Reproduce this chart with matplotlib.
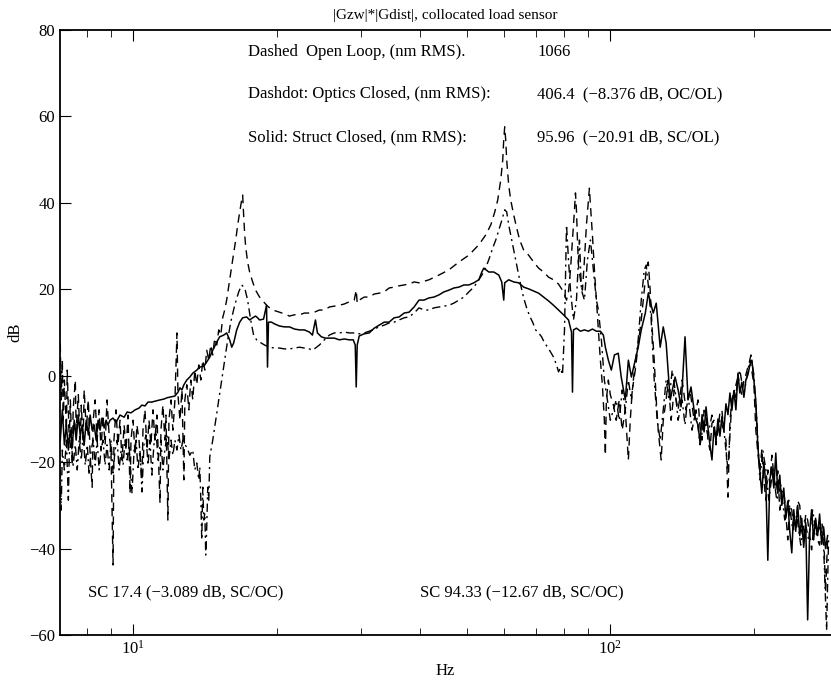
import matplotlib
matplotlib.use('Agg')
import matplotlib.pyplot as plt

plt.rcParams['font.family'] = ['Liberation Serif', 'DejaVu Serif']
plt.rcParams['mathtext.fontset'] = 'stix'

# dashed: open loop
ol_hz = [7.04, 7.07, 7.11, 7.14, 7.18, 7.25, 7.28, 7.35, 7.39, 7.46, 7.49, 7.57, 7.60, 7.68, 7.75, 7.79,
         7.86, 7.90, 7.98, 8.06, 8.13, 8.21, 8.25, 8.33, 8.41, 8.49, 8.57, 8.65, 8.74, 8.82, 8.91, 8.99,
         9.08, 9.12, 9.21, 9.30, 9.39, 9.48, 9.58, 9.67, 9.76, 9.86, 9.90, 10.00, 10.10, 10.19, 10.29,
         10.44, 10.49, 10.59, 10.70, 10.80, 10.90, 11.01, 11.11, 11.22, 11.39, 11.44, 11.55, 11.66, 11.72,
         11.83, 11.89, 12.01, 12.12, 12.24, 12.36, 12.42, 12.54, 12.66, 12.78, 12.84, 12.96, 13.09, 13.21,
         13.34, 13.47, 13.60, 13.73, 13.87, 14.00, 14.14, 14.27, 14.41, 14.55, 14.69, 14.83, 14.98, 15.12,
         15.27, 15.41, 15.56, 15.71, 15.94, 16.17, 16.41, 16.57, 16.73, 16.89, 16.97, 17.05, 17.14, 17.22,
         17.38, 17.55, 17.81, 18.06, 18.41, 18.77, 19.13, 19.50, 19.88, 20.27, 20.76, 21.27, 21.79, 22.32,
         22.86, 23.42, 23.99, 24.57, 25.17, 25.78, 26.41, 27.05, 27.71, 28.38, 29.07, 29.35, 29.49, 29.78,
         30.50, 31.25, 32.01, 32.79, 33.59, 34.40, 35.24, 36.10, 36.98, 37.87, 38.80, 39.74, 41.70, 43.75,
         45.90, 48.16, 50.54, 53.03, 54.85, 56.18, 57.27, 58.10, 58.94, 59.51, 59.80, 60.08, 60.37, 60.66,
         61.25, 61.84, 62.74, 63.65, 64.58, 65.83, 67.43, 69.08, 70.75, 72.47, 74.24, 76.04, 77.89, 79.79,
         80.95, 81.73, 82.52, 83.32, 84.12, 84.53, 84.93, 85.34, 85.75, 86.58, 87.42, 88.26, 89.12, 89.98,
         90.41, 90.85, 91.73, 92.62, 93.51, 94.41, 95.32, 96.24, 97.17, 97.64, 98.11, 99.06, 100.0, 101.5,
         102.9, 104.4, 105.9, 107.5, 109.1, 110.1, 111.2, 112.8, 114.4, 116.1, 117.8, 118.9, 120.1, 121.2,
         122.4, 123.6, 124.8, 126.0, 127.8, 129.1, 130.9, 132.2, 134.1, 136.1, 138.7, 141.4, 144.1, 146.9,
         149.8, 152.7, 154.2, 155.7, 157.2, 158.7, 160.2, 161.7, 163.3, 164.9, 166.5, 168.1, 169.7, 171.3,
         173.0, 174.7, 176.4, 178.1, 179.8, 181.5, 183.3, 185.1, 186.8, 188.6, 190.5, 192.3, 194.2, 196.1,
         198.0, 199.9, 201.8, 203.8, 205.7, 207.7, 209.7, 211.8, 213.8, 215.9, 218.0, 220.1, 222.2, 224.3,
         226.5, 228.7, 230.9, 233.2, 235.4, 237.7, 240.0, 242.3, 244.6, 247.0, 249.4, 251.8, 254.2, 256.7,
         259.1, 261.7, 264.1, 266.7, 269.2, 271.9, 274.5, 277.2, 279.8, 282.5, 285.3]
ol_db = [7.5, -5.6, 3.6, -10.3, -1.0, -12.6, 1.3, -14.9, -5.6, -20.7, -7.9, -1.0, -12.6, -4.4, -16.0, -6.8,
         -14.9, -3.3, -12.6, -5.6, -18.4, -25.8, -10.3, -5.6, -14.9, -7.9, -17.2, -9.1, -16.0, -5.6, -13.7, -17.2,
         -43.8, -14.9, -7.9, -16.0, -10.3, -19.5, -11.4, -17.2, -9.1, -27.2, -14.9, -10.3, -18.4, -11.4, -14.9,
         -24.1, -12.6, -7.9, -17.2, -10.3, -16.0, -7.9, -14.9, -9.1, -29.5, -12.6, -6.8, -14.9, -9.1,
         -33.4, -10.3, -5.6, -12.6, -5.6, 9.9, -4.4, -10.3, -3.3, -24.1, -5.6, -2.1, -7.9, -1.0,
         -5.6, 1.3, -2.1, 2.5, -1.0, 3.6, 1.3, 5.9, 3.6, 7.1, 4.8, 8.7, 7.1, 10.6,
         9.4, 13.4, 15.2, 17.5, 22.2, 26.8, 31.4, 34.9, 37.9, 40.7, 41.8, 37.2, 32.6, 29.8,
         26.3, 24.0, 21.7, 19.8, 18.2, 17.1, 16.1, 15.4, 15.0, 14.7, 14.3, 13.8, 14.1, 14.1,
         14.5, 14.5, 14.7, 15.2, 15.2, 15.9, 16.1, 16.3, 16.6, 17.1, 17.5, 19.8, 16.8, 17.5,
         18.2, 18.2, 18.9, 19.1, 19.4, 20.3, 20.5, 20.8, 21.0, 21.2, 21.7, 21.5, 22.2, 23.3,
         24.5, 26.3, 27.9, 30.3, 32.6, 34.9, 37.9, 40.7, 45.3, 49.9, 54.6, 57.6, 54.6, 49.9,
         44.1, 40.7, 37.2, 34.2, 31.4, 29.1, 27.9, 26.3, 24.9, 24.0, 22.8, 22.2, 21.2, 19.4,
         17.5, 19.4, 24.5, 31.4, 38.4, 42.3, 38.4, 31.4, 25.6, 22.2, 19.8, 26.8, 34.9, 40.7,
         43.4, 39.5, 32.6, 24.5, 17.5, 10.6, 3.6, -2.1, -10.3, -18.4, -5.6, -1.0, -4.4, -6.8,
         -10.3, -5.6, -12.6, -7.9, -19.5, -10.3, -3.3, 1.3, 7.1, 12.9, 19.8, 24.5, 26.3, 19.8,
         10.6, 3.6, -5.6, -12.6, -19.5, -10.3, -5.6, -1.0, -10.3, -3.3, -7.9, -1.0, -7.9, -3.3,
         -10.3, -5.6, -12.0, -14.9, -8.0, -9.1, -15.0, -17.2, -11.0, -10.3, -16.0, -12.6, -8.5, -7.9,
         -13.0, -14.9, -28.1, -10.3, -6.0, -3.3, -5.0, 0.2, -2.5, -4.4, -1.0, 0.2, 2.0, 3.6,
         1.0, -2.0, -12.6, -18.0, -21.8, -17.2, -24.0, -28.8, -21.8, -25.0, -18.4, -23.0, -26.5, -22.0,
         -31.1, -27.0, -26.5, -32.0, -38.0, -30.0, -31.1, -36.0, -35.7, -29.0, -30.0, -36.0, -38.0, -32.0,
         -33.4, -37.0, -40.3, -35.0, -33.4, -38.0, -39.2, -34.0, -35.7, -50.0, -38.0]

# dashdot: optics closed
oc_hz = [7.04, 7.07, 7.11, 7.18, 7.25, 7.32, 7.35, 7.42, 7.49, 7.57, 7.64, 7.71, 7.79, 7.86, 7.94, 8.02,
         8.09, 8.17, 8.25, 8.33, 8.41, 8.49, 8.57, 8.65, 8.74, 8.82, 8.91, 8.99, 9.08, 9.17, 9.26, 9.35,
         9.44, 9.53, 9.62, 9.72, 9.81, 9.95, 10.05, 10.15, 10.24, 10.34, 10.44, 10.54, 10.64, 10.75, 10.85,
         10.95, 11.06, 11.17, 11.28, 11.44, 11.55, 11.66, 11.78, 11.89, 12.01, 12.12, 12.24, 12.36, 12.48,
         12.60, 12.72, 12.84, 12.96, 13.15, 13.34, 13.47, 13.60, 13.73, 13.80, 13.87, 13.93, 14.00, 14.07,
         14.14, 14.20, 14.27, 14.34, 14.41, 14.48, 14.69, 14.90, 15.12, 15.34, 15.56, 15.79, 16.02, 16.33,
         16.65, 16.89, 17.14, 17.38, 17.64, 17.89, 18.15, 18.41, 18.86, 19.32, 19.78, 20.27, 20.76, 21.27,
         21.79, 22.32, 22.86, 23.42, 23.76, 24.11, 24.57, 25.17, 25.78, 26.41, 27.05, 27.71, 28.38, 29.07,
         29.78, 30.50, 31.25, 32.01, 32.79, 33.59, 34.40, 35.24, 36.10, 36.98, 37.87, 38.80, 39.74, 40.71,
         41.70, 42.71, 43.75, 44.82, 45.90, 47.02, 48.16, 49.34, 50.54, 51.77, 53.03, 54.32, 55.11, 55.91,
         56.72, 57.54, 58.38, 59.22, 60.08, 60.66, 61.25, 62.14, 63.04, 63.96, 64.89, 65.83, 66.79, 67.76,
         68.74, 69.74, 70.75, 71.78, 72.82, 73.88, 74.95, 76.04, 77.14, 77.89, 78.64, 79.40, 80.17, 80.95,
         81.73, 82.52, 83.72, 84.93, 86.17, 87.00, 88.26, 89.55, 90.85, 92.17, 93.51, 94.41, 95.78, 97.17,
         98.59, 100.0, 101.5, 102.9, 104.4, 105.9, 107.5, 109.1, 110.7, 112.3, 114.4, 116.1, 117.8, 118.9,
         120.1, 121.8, 123.6, 125.4, 127.2, 129.1, 130.9, 132.8, 134.8, 136.7, 138.7, 141.4, 143.4, 145.5,
         148.3, 151.2, 154.2, 157.2, 160.2, 163.3, 166.5, 169.7, 173.0, 176.4, 179.8, 183.3, 186.8, 190.5,
         194.2, 197.0, 199.9, 202.8, 205.7, 208.7, 211.8, 214.8, 219.0, 223.2, 227.6, 232.0, 236.5, 241.1,
         245.8, 250.6, 255.4, 260.4, 265.4, 270.5, 275.8, 279.8, 283.9, 286.6]
oc_db = [-21.8, -31.1, -17.2, -21.8, -14.9, -28.8, -18.4, -14.9, -20.7, -16.0, -21.8, -14.9, -19.5, -13.7, -20.7, -16.0,
         -23.0, -17.2, -14.9, -20.7, -14.9, -21.8, -17.2, -14.9, -20.7, -16.0, -21.8, -14.9, -22.5, -17.2, -14.9, -21.8,
         -17.2, -20.7, -14.9, -19.5, -16.0, -27.2, -17.2, -14.9, -21.8, -17.2, -26.9, -16.0, -13.7, -20.7, -14.9,
         -23.0, -16.0, -12.6, -19.5, -14.9, -21.8, -17.2, -13.7, -19.5, -14.9, -18.4, -14.9, -17.2, -13.7,
         -17.2, -14.9, -16.0, -16.5, -18.4, -17.2, -21.8, -20.2, -24.1, -21.1, -28.8, -38.0, -25.8, -33.4,
         -31.8, -41.5, -35.0, -25.8, -28.8, -18.8, -14.9, -10.3, -5.6, -1.0, 3.6, 8.3, 12.4, 16.3,
         19.4, 21.0, 20.3, 17.5, 12.9, 9.4, 8.3, 7.8, 7.1, 6.6, 6.4, 6.4, 6.2, 6.2,
         6.4, 6.6, 6.4, 6.2, 5.9, 6.4, 7.1, 8.3, 9.4, 9.9, 9.9, 10.1, 9.9, 9.9,
         9.7, 9.9, 10.3, 10.8, 11.3, 11.7, 12.2, 12.4, 12.9, 13.4, 13.6, 14.5, 15.7, 15.2,
         15.2, 15.7, 15.9, 16.1, 16.3, 16.8, 17.5, 18.2, 19.4, 20.5, 22.2, 24.0, 25.6, 27.5,
         29.6, 31.4, 33.7, 35.9, 38.4, 37.9, 34.9, 31.4, 27.9, 24.5, 21.0, 18.0, 15.7, 13.8,
         12.4, 10.6, 9.9, 9.0, 7.6, 6.6, 5.5, 4.3, 2.5, 0.9, 1.8, 0.2, 10.6, 34.9,
         26.8, 19.8, 12.9, 17.5, 31.4, 19.8, 17.5, 26.8, 31.4, 24.5, 17.5, 15.2, 8.3, -1.0,
         -5.6, -10.3, -7.9, -5.6, -10.3, -3.3, -7.9, -1.0, -5.6, 1.3, 8.3, 17.5, 24.5, 25.6,
         21.0, 12.9, -1.0, -10.3, -14.9, -7.9, -1.0, -5.6, 1.3, -3.3, -10.3, -5.6, -11.4, -4.4,
         -12.6, -7.9, -16.0, -10.3, -13.7, -9.1, -14.9, -10.3, -12.6, -21.8, -5.6, -2.1, 1.3, -4.4,
         1.3, 4.8, 0.2, -10.3, -24.1, -17.2, -21.8, -28.8, -21.8, -28.8, -25.3, -33.4, -28.8, -35.7,
         -32.3, -39.2, -33.4, -38.0, -31.1, -36.9, -34.6, -39.2, -58.9, -38.0]

# solid: structure closed
sc_hz = [7.04, 7.11, 7.18, 7.25, 7.32, 7.39, 7.46, 7.53, 7.60, 7.68, 7.75, 7.83, 7.90, 7.98, 8.06, 8.13,
         8.21, 8.29, 8.37, 8.45, 8.53, 8.61, 8.70, 8.78, 8.86, 8.95, 9.08, 9.21, 9.39, 9.58, 9.72, 9.90,
         10.10, 10.29, 10.44, 10.59, 10.75, 10.95, 11.11, 11.39, 11.61, 11.78, 12.01, 12.24, 12.42, 12.54,
         12.66, 12.78, 12.96, 13.15, 13.34, 13.60, 13.80, 14.07, 14.27, 14.48, 14.69, 14.98, 15.19, 15.49,
         15.71, 15.94, 16.10, 16.25, 16.49, 16.73, 16.97, 17.30, 17.55, 17.81, 18.06, 18.24, 18.41, 18.77,
         19.04, 19.13, 19.22, 19.50, 19.78, 20.27, 20.76, 21.27, 21.79, 22.32, 22.86, 23.42, 23.76, 24.11,
         24.34, 24.81, 25.29, 25.78, 26.41, 27.05, 27.71, 28.38, 28.93, 29.21, 29.35, 29.49, 29.78, 30.50,
         31.25, 32.01, 32.79, 33.59, 34.40, 35.24, 36.10, 36.98, 37.87, 38.80, 39.74, 40.71, 41.70, 42.71,
         43.75, 44.82, 45.90, 47.02, 48.16, 49.34, 50.54, 51.77, 53.03, 53.80, 54.32, 55.64, 56.99, 58.38,
         59.22, 59.80, 60.08, 61.25, 62.74, 64.27, 65.83, 67.43, 69.08, 70.75, 72.47, 74.24, 76.04, 77.89,
         79.79, 81.73, 82.52, 82.92, 83.32, 83.72, 84.93, 86.58, 88.26, 89.98, 91.73, 93.51, 95.32, 96.71,
         97.64, 99.06, 100.5, 102.0, 103.9, 105.4, 107.5, 109.1, 110.7, 112.8, 114.4, 116.1, 118.4, 120.1,
         121.8, 123.0, 124.8, 127.2, 129.1, 130.9, 133.5, 136.7, 138.7, 140.7, 143.4, 145.5, 147.6, 150.5,
         152.7, 154.2, 155.7, 157.2, 158.7, 160.2, 161.7, 163.3, 164.9, 166.5, 168.1, 169.7, 171.3, 173.0,
         174.7, 176.4, 178.1, 179.8, 181.5, 183.3, 185.1, 186.8, 188.6, 190.5, 192.3, 194.2, 196.1, 198.0,
         199.9, 201.8, 203.8, 205.7, 207.7, 209.7, 211.8, 213.8, 215.9, 218.0, 220.1, 222.2, 224.3, 226.5,
         228.7, 230.9, 233.2, 235.4, 237.7, 240.0, 242.3, 244.6, 247.0, 249.4, 251.8, 254.2, 256.7, 259.1,
         261.7, 264.1, 266.7, 269.2, 271.9, 274.5, 277.2, 279.8, 282.5, 285.3]
sc_db = [-14.9, -7.9, -16.0, -11.4, -17.2, -12.6, -16.0, -10.3, -14.9, -9.1, -13.7, -11.4, -16.0, -10.3, -13.7, -9.1,
         -12.6, -11.4, -14.9, -10.3, -12.6, -9.8, -12.1, -10.3, -11.4, -10.3, -9.8, -10.8, -9.1, -9.6, -8.4, -8.6,
         -7.9, -7.5, -6.8, -7.0, -6.1, -6.1, -5.9, -5.6, -5.4, -5.1, -4.9, -4.7, -3.8, -2.8,
         -3.3, -2.1, -1.0, -0.3, 0.6, 1.3, 2.0, 2.2, 3.2, 4.3, 5.9, 7.8, 9.0, 9.4,
         9.9, 8.3, 6.6, 7.6, 10.6, 12.4, 13.4, 13.6, 12.9, 13.4, 13.8, 13.4, 12.9, 13.1,
         16.3, 2.0, 12.4, 12.4, 12.0, 11.5, 11.3, 11.3, 10.8, 10.6, 10.6, 10.1, 9.4, 12.9,
         9.9, 9.0, 8.7, 8.7, 8.7, 8.3, 8.5, 8.3, 8.3, 7.1, -2.6, 7.1, 9.2, 9.7,
         9.9, 11.0, 11.7, 12.4, 12.4, 13.4, 13.6, 14.5, 14.7, 15.9, 17.5, 17.5, 18.0, 18.2,
         18.7, 19.4, 19.8, 20.3, 20.5, 21.0, 21.0, 21.5, 22.2, 24.0, 24.9, 24.0, 24.0, 23.3,
         21.7, 17.5, 21.5, 22.2, 21.7, 21.5, 20.5, 20.1, 19.6, 19.1, 18.2, 17.3, 16.3, 15.2,
         14.1, 12.9, 11.0, 10.1, -3.8, 10.6, 11.0, 10.3, 10.6, 10.3, 10.8, 10.3, 10.3, 9.4,
         6.6, 3.6, 1.3, 4.8, 5.2, -0.3, -5.6, 3.6, -0.3, 3.6, 6.6, 10.6, 14.5, 19.1,
         16.3, 14.5, 16.8, 6.6, 11.3, 7.6, -5.6, -0.3, -3.3, -7.2, 9.0, -5.6, -2.6, -9.6,
         -11.4, -15.6, -9.0, -13.0, -7.2, -12.0, -16.0, -19.5, -12.0, -15.0, -10.0, -14.0, -9.5, -12.5,
         -6.5, -9.0, -4.0, -8.0, -3.5, -7.9, 0.6, -4.0, -1.5, -5.0, -1.0, 0.2, 2.5, 3.6,
         -1.0, -6.0, -16.5, -22.0, -27.2, -20.0, -25.0, -42.7, -24.0, -21.1, -26.0, -17.9, -27.2, -23.0,
         -30.0, -26.0, -33.0, -29.0, -36.0, -41.0, -31.0, -36.0, -30.0, -37.0, -33.0, -39.7, -34.0, -56.5,
         -36.0, -31.0, -38.0, -33.0, -37.0, -32.0, -39.0, -35.0, -40.0, -37.0]

title = '|Gzw|*|Gdist|, collocated load sensor'
notes = [('Dashed  Open Loop, (nm RMS).', '1066'),
         ('Dashdot: Optics Closed, (nm RMS):', '406.4  (\u22128.376 dB, OC/OL)'),
         ('Solid: Struct Closed, (nm RMS):', '95.96  (\u221220.91 dB, SC/OL)')]
sc_notes = ['SC 17.4 (\u22123.089 dB, SC/OC)', 'SC 94.33 (\u221212.67 dB, SC/OC)']

fig = plt.figure(figsize=(8.31, 6.8), dpi=100)
ax = fig.add_axes([60/831, 45/680, 771/831, 605/680])

ax.plot(ol_hz, ol_db, color='black', lw=1.0, dashes=(6, 4))
ax.plot(oc_hz, oc_db, color='black', lw=1.0, dashes=(6, 3, 1.5, 3))
ax.plot(sc_hz, sc_db, color='black', lw=1.1)

ax.set_xscale('log')
ax.set_xlim(7.03, 290)
ax.set_ylim(-60, 80)
ax.set_yticks(range(-60, 81, 20))
ax.tick_params(which='both', direction='in', top=True, right=False, labelsize=12)
ax.tick_params(which='major', length=8)
ax.tick_params(which='minor', length=5)
ax.spines['right'].set_visible(False)
for sp in ax.spines.values():
    sp.set_linewidth(1.3)

ax.set_title(title, fontsize=11, pad=8)
ax.set_xlabel('Hz', fontsize=12)
ax.set_ylabel('dB', fontsize=12)

ys = [0.9636, 0.894, 0.823]
for (label, value), yy in zip(notes, ys):
    ax.text(0.2438, yy, label, transform=ax.transAxes, fontsize=12, va='center')
    ax.text(0.6187, yy, value, transform=ax.transAxes, fontsize=12, va='center')
ax.text(0.0363, 0.0711, sc_notes[0], transform=ax.transAxes, fontsize=12, va='center')
ax.text(0.467, 0.0711, sc_notes[1], transform=ax.transAxes, fontsize=12, va='center')

fig.savefig('out.png', dpi=100)
